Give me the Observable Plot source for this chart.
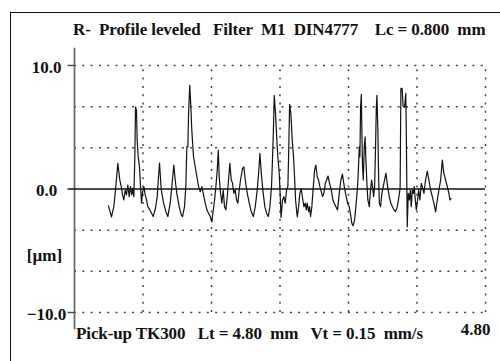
<!DOCTYPE html>
<html>
<head>
<meta charset="utf-8">
<script src="https://cdn.jsdelivr.net/npm/d3@7"></script>
<script src="https://cdn.jsdelivr.net/npm/@observablehq/plot@0.6"></script>
<style>
  html, body { margin: 0; padding: 0; background: #fff; }
  #wrap { position: relative; width: 500px; height: 361px; overflow: hidden; background: #fff; }
  #frame { position: absolute; left: 10px; top: 12px; width: 520px; height: 400px;
           border-left: 1.5px solid #111; border-top: 1.5px solid #111; }
  .line { position: absolute; white-space: pre; font-family: "Liberation Serif", "Times New Roman", serif;
          font-weight: bold; font-size: 17px; line-height: 17px; color: #111; }
  #title { left: 73px; top: 21px; letter-spacing: -0.1px; }
  #footer { left: 76px; top: 325px; letter-spacing: -0.1px; }
  #chart { position: absolute; left: 0; top: 0; }
</style>
</head>
<body>
<div id="wrap">
  <div id="frame"></div>
  <div id="chart"></div>
  <div id="title" class="line"></div>
  <div id="footer" class="line"></div>
</div>
<script>
// Header and footer of the roughness report
const titleText = "R-  Profile leveled   Filter  M1  DIN4777    Lc = 0.800  mm";
const footerText = "Pick-up TK300   Lt = 4.80  mm   Vt = 0.15  mm/s";

// Axis setup (mm along the trace, µm for the profile height)
const xDomain = [0, 4.8];
const yDomain = [-10, 10];
const yTicks = [10, 0, -10];
const yUnit = "[µm]";
const xEndLabel = [4.8];
const xGrid = [0.8, 1.6, 2.4, 3.2, 4.0, 4.8];
const yGrid = [-10, -20 / 3, -10 / 3, 10 / 3, 20 / 3, 10];

// Leveled roughness profile: position along trace (mm)
const posMm = [
  0.397, 0.432, 0.459, 0.479, 0.506, 0.529, 0.546, 0.561, 0.576, 0.592,
  0.607, 0.623, 0.639, 0.654, 0.669, 0.681, 0.693, 0.704, 0.713, 0.724,
  0.732, 0.744, 0.759, 0.771, 0.783, 0.794, 0.810, 0.826, 0.841, 0.856,
  0.880, 0.900, 0.919, 0.946, 0.966, 0.981, 0.993, 1.013, 1.040, 1.067,
  1.090, 1.118, 1.137, 1.160, 1.176, 1.195, 1.223, 1.246, 1.262, 1.285,
  1.300, 1.312, 1.324, 1.332, 1.346, 1.359, 1.370, 1.390, 1.410, 1.429,
  1.449, 1.468, 1.487, 1.507, 1.527, 1.546, 1.565, 1.585, 1.604, 1.616,
  1.636, 1.651, 1.667, 1.679, 1.690, 1.706, 1.721, 1.737, 1.752, 1.768,
  1.784, 1.799, 1.814, 1.831, 1.846, 1.861, 1.877, 1.893, 1.908, 1.924,
  1.939, 1.963, 1.978, 1.994, 2.018, 2.041, 2.064, 2.088, 2.111, 2.134,
  2.153, 2.165, 2.185, 2.204, 2.223, 2.243, 2.263, 2.282, 2.301, 2.313,
  2.321, 2.333, 2.348, 2.363, 2.375, 2.391, 2.403, 2.412, 2.430, 2.445,
  2.461, 2.477, 2.492, 2.503, 2.512, 2.527, 2.543, 2.558, 2.570, 2.582,
  2.593, 2.602, 2.617, 2.632, 2.648, 2.667, 2.679, 2.695, 2.707, 2.718,
  2.734, 2.745, 2.757, 2.772, 2.789, 2.804, 2.819, 2.835, 2.850, 2.866,
  2.882, 2.897, 2.912, 2.929, 2.944, 2.961, 2.979, 2.999, 3.018, 3.034,
  3.053, 3.072, 3.092, 3.111, 3.129, 3.151, 3.169, 3.189, 3.209, 3.228,
  3.239, 3.253, 3.271, 3.286, 3.303, 3.314, 3.326, 3.333, 3.341, 3.350,
  3.356, 3.364, 3.373, 3.384, 3.394, 3.403, 3.415, 3.426, 3.443, 3.454,
  3.470, 3.481, 3.493, 3.505, 3.516, 3.525, 3.532, 3.543, 3.551, 3.560,
  3.575, 3.590, 3.606, 3.621, 3.637, 3.657, 3.676, 3.695, 3.730, 3.750,
  3.770, 3.789, 3.803, 3.812, 3.826, 3.838, 3.855, 3.869, 3.876, 3.886,
  3.898, 3.910, 3.922, 3.933, 3.945, 3.957, 3.968, 3.980, 3.992, 4.003,
  4.019, 4.034, 4.050, 4.062, 4.081, 4.100, 4.120, 4.139, 4.159, 4.179,
  4.197, 4.217, 4.237, 4.256, 4.276, 4.296, 4.314, 4.334, 4.354, 4.373,
  4.385, 4.398
];

// Leveled roughness profile: height (µm)
const heightUm = [
  -1.37, -2.26, -1.43, -0.08, 2.07, 0.73, 0.19, -0.48, -0.89, -0.08,
  -0.48, 0.32, -0.62, 0.19, -0.48, 0.06, -0.62, 2.34, 6.64, 6.37,
  3.95, 2.60, 1.80, 0.19, -1.13, -0.32, 0.19, -0.48, -0.89, -1.43,
  -1.69, -1.96, -2.23, -1.56, -0.62, 0.99, 2.10, -0.08, -1.13, -1.83,
  -2.23, -1.13, 0.19, 1.94, 0.73, -0.35, -1.43, -2.10, -2.23, -1.43,
  0.19, 3.41, 3.41, 6.10, 8.39, 6.64, 4.76, 2.60, 1.80, 0.99,
  0.19, -0.22, 0.19, -0.48, -1.15, -1.69, -1.96, -2.23, -2.66, -1.96,
  -0.89, 0.19, 1.53, 3.15, 0.99, -0.35, -1.15, -0.08, -1.43, -1.69,
  -0.62, 0.73, 2.07, 0.73, 0.46, -0.35, -0.08, -0.89, -1.15, -0.08,
  0.73, 1.67, 1.80, 0.73, -0.35, -1.15, -1.83, -2.23, -1.43, -0.08,
  1.53, 2.88, 0.99, -0.35, -1.43, -1.96, -2.23, -1.43, 0.19, 2.60,
  4.22, 7.58, 6.10, 3.95, 2.60, 1.27, -0.62, -2.30, -0.89, -0.62,
  -1.15, -0.08, 0.19, 3.41, 6.85, 6.10, 3.95, 2.60, 0.99, -0.89,
  -1.69, -2.26, -1.43, -0.35, 0.00, -0.89, -1.43, -1.15, -1.69, -1.15,
  -1.83, -1.43, -2.23, -1.43, 0.19, 1.53, 1.94, 0.99, 0.73, 0.19,
  -0.22, -0.62, -0.35, 0.46, 0.73, 1.05, 0.46, -0.08, -0.89, -1.15,
  -1.43, -1.69, -0.35, 0.73, 1.21, 0.19, -0.48, -1.15, -1.43, -2.23,
  -2.77, -2.98, -2.50, -1.43, -0.08, 1.27, 3.41, 2.60, 6.64, 7.66,
  4.76, 1.80, 0.73, 3.41, 4.22, 2.34, 0.46, -0.89, -1.43, -0.35,
  0.73, 0.19, -0.62, 0.19, 3.41, 6.64, 7.58, 4.76, 1.27, -1.15,
  -1.43, -0.35, 0.19, 0.73, 1.29, 0.19, -0.62, -1.15, -1.69, -1.83,
  -1.43, -0.62, 0.08, 8.15, 8.15, 6.69, 6.61, 7.74, 3.95, -3.06,
  -0.35, -0.89, -0.08, -1.43, -0.08, -0.35, 0.19, -0.89, -1.69, -1.15,
  -0.08, -0.89, 0.46, 0.19, -0.35, 0.73, 1.45, 0.73, -0.08, -0.62,
  -1.15, -1.85, -0.89, -0.08, 0.73, 2.34, 1.27, 0.73, 0.19, -0.35,
  -0.89, -0.77
];

const profile = posMm.map((x, i) => ({x, y: heightUm[i]}));

document.getElementById("title").textContent = titleText;
document.getElementById("footer").textContent = footerText;

const serif = "Liberation Serif, Times New Roman, serif";
const dots = {stroke: "#444", strokeWidth: 1.5, strokeDasharray: "2,6.3"};

const chart = Plot.plot({
  width: 500,
  height: 361,
  marginLeft: 74,
  marginRight: 15,
  marginTop: 65,
  marginBottom: 49,
  x: {domain: xDomain, axis: null},
  y: {domain: yDomain, axis: null},
  style: {background: "transparent", overflow: "visible"},
  marks: [
    // dotted grid
    Plot.ruleY(yGrid, {x1: xDomain[0], x2: xDomain[1], ...dots}),
    Plot.ruleX(xGrid, {y1: yDomain[0], y2: yDomain[1], ...dots}),
    // vertical axis line, running a little past the ±10 marks
    Plot.ruleX([0], {y1: -11.4, y2: 11.4, stroke: "#666", strokeWidth: 1.7}),
    // short outer ticks at ±10
    Plot.ruleY([10, -10], {x1: -0.075, x2: 0, stroke: "#444", strokeWidth: 1.4}),
    // mean line
    Plot.ruleY([0], {x1: -0.075, x2: xDomain[1], stroke: "#111", strokeWidth: 1.3}),
    // profile trace
    Plot.line(profile, {x: "x", y: "y", stroke: "#111", strokeWidth: 1.2, strokeLinejoin: "round"}),
    // y tick labels and unit
    Plot.text(yTicks, {x: 0, y: d => d, text: d => d3.format(".1f")(d), dx: -28, dy: 2,
      textAnchor: "middle", fontFamily: serif, fontWeight: "bold", fontSize: 17, fill: "#111"}),
    Plot.text([yUnit], {x: 0, y: -5.3, text: d => d, dx: -30, dy: 1,
      textAnchor: "middle", fontFamily: serif, fontWeight: "bold", fontSize: 17, fill: "#111"}),
    // trace length at the right end
    Plot.text(xEndLabel, {x: d => d, y: yDomain[0], text: d => d3.format(".2f")(d), dx: 5, dy: 22,
      textAnchor: "end", lineAnchor: "bottom", fontFamily: serif, fontWeight: "bold", fontSize: 17, fill: "#111"})
  ]
});

document.getElementById("chart").appendChild(chart);
</script>
</body>
</html>
